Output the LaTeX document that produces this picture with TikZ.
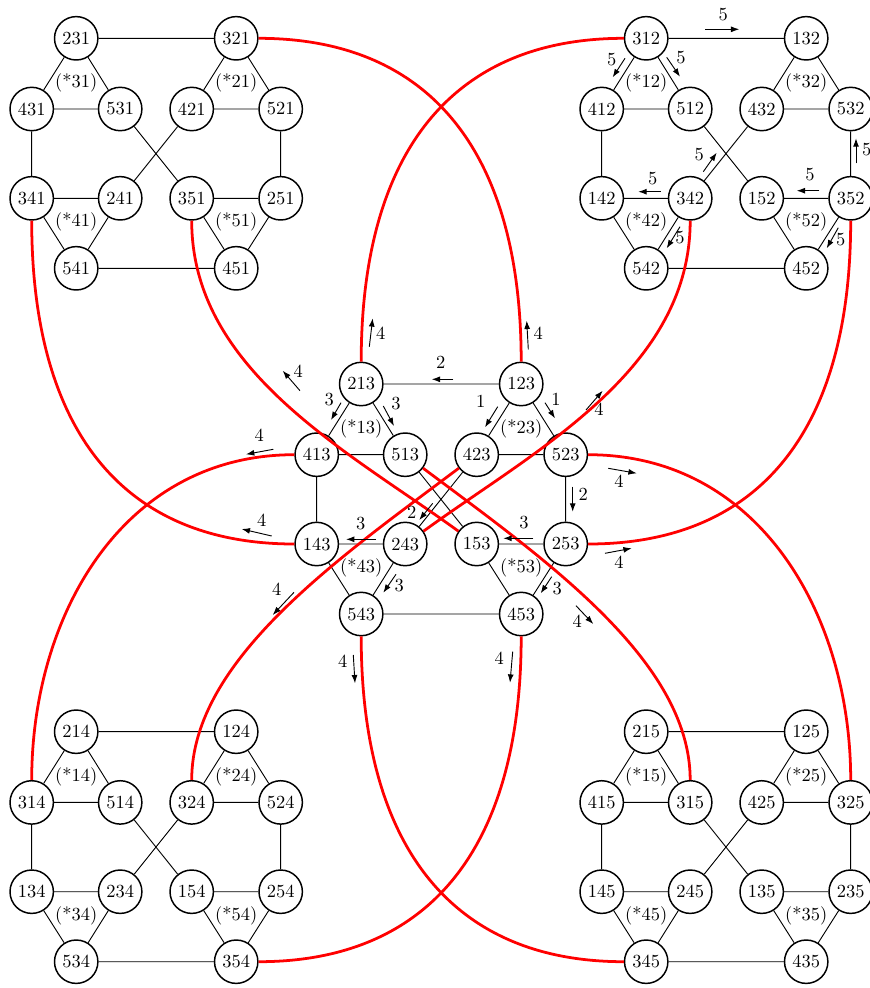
\documentclass[tikz,border=0pt]{standalone}
\usetikzlibrary{arrows.meta}
\begin{document}
\begin{tikzpicture}[x=0.5415pt,y=-0.5415pt,
  vtx/.style={circle,draw,line width=0.8pt,minimum size=23.5pt,inner sep=0pt,fill=white},
  edg/.style={line width=0.5pt},
  redc/.style={draw=red,line width=1.5pt},
  arr/.style={-{Latex[length=4.5pt,width=3.2pt]},line width=0.5pt},
  lab/.style={inner sep=0pt}]
\useasboundingbox (0,0) rectangle (870,988);

\foreach \ox/\oy/\qa/\qb/\qc/\qd/\qe/\qf/\qg/\qh/\qi/\qj/\qk/\ql/\ta/\tb/\tc/\td in {
  31.7/38.3/231/321/431/531/421/521/341/241/351/251/541/451/31/21/41/51,
  601.7/38.3/312/132/412/512/432/532/142/342/152/352/542/452/12/32/42/52,
  316.7/384/213/123/413/513/423/523/143/243/153/253/543/453/13/23/43/53,
  31.7/731.7/214/124/314/514/324/524/134/234/154/254/534/354/14/24/34/54,
  601.7/731.7/215/125/415/315/425/325/145/245/135/235/345/435/15/25/45/35}{
  \node[vtx] (n\qa) at (\ox+44.5,\oy) {\qa};
  \node[vtx] (n\qb) at (\ox+204.5,\oy) {\qb};
  \node[vtx] (n\qc) at (\ox,\oy+70.7) {\qc};
  \node[vtx] (n\qd) at (\ox+88.5,\oy+70.7) {\qd};
  \node[vtx] (n\qe) at (\ox+160,\oy+70.7) {\qe};
  \node[vtx] (n\qf) at (\ox+249,\oy+70.7) {\qf};
  \node[vtx] (n\qg) at (\ox,\oy+160) {\qg};
  \node[vtx] (n\qh) at (\ox+88.5,\oy+160) {\qh};
  \node[vtx] (n\qi) at (\ox+160,\oy+160) {\qi};
  \node[vtx] (n\qj) at (\ox+249,\oy+160) {\qj};
  \node[vtx] (n\qk) at (\ox+44.5,\oy+230) {\qk};
  \node[vtx] (n\ql) at (\ox+204.5,\oy+230) {\ql};
  \node[lab] (t\ta) at (\ox+44.5,\oy+45) {(*\ta)};
  \node[lab] (t\tb) at (\ox+204.5,\oy+45) {(*\tb)};
  \node[lab] (t\tc) at (\ox+44.5,\oy+184) {(*\tc)};
  \node[lab] (t\td) at (\ox+204.5,\oy+184) {(*\td)};
  \draw[edg] (n\qa)--(n\qb) (n\qa)--(n\qc) (n\qa)--(n\qd) (n\qc)--(n\qd)
    (n\qb)--(n\qe) (n\qb)--(n\qf) (n\qe)--(n\qf) (n\qc)--(n\qg) (n\qf)--(n\qj)
    (n\qd)--(n\qi) (n\qe)--(n\qh) (n\qg)--(n\qh) (n\qg)--(n\qk) (n\qh)--(n\qk)
    (n\qi)--(n\qj) (n\qi)--(n\ql) (n\qj)--(n\ql) (n\qk)--(n\ql);
}

% red connectors
\draw[redc] (n321.east) .. controls +(171,0) and +(0,-210) .. (n123.north);
\draw[redc] (n312.west) .. controls +(-171,0) and +(0,-210) .. (n213.north);
\draw[redc] (n341.south) .. controls +(0,210) and +(-171,0) .. (n143.west);
\draw[redc] (n352.south) .. controls +(0,210) and +(171,0) .. (n253.east);
\draw[redc] (n413.west) .. controls +(-171,0) and +(0,-165) .. (n314.north);
\draw[redc] (n523.east) .. controls +(171,0) and +(0,-165) .. (n325.north);
\draw[redc] (n543.south) .. controls +(0,211) and +(-171,0) .. (n345.west);
\draw[redc] (n453.south) .. controls +(0,211) and +(171,0) .. (n354.east);
\draw[redc] (n351.south) .. controls +(0,150) and +(-110,-80) .. (n153.145);
\draw[redc] (n342.south) .. controls +(0,150) and +(110,-80) .. (n243.35);
\draw[redc] (n513.-37) .. controls +(120,90) and +(0,-120) .. (n315.north);
\draw[redc] (n423.-143) .. controls +(-120,90) and +(0,-120) .. (n324.north);

% labelled arrows
\foreach \xa/\ya/\xb/\yb/\lx/\ly/\tx in {
  705/29.3/739.3/29.3/723.3/15/5,
  625/58.3/612.7/77.3/611.7/60/5,
  666.7/57.3/680/76.7/681/57.3/5,
  703.3/171.7/716.7/152.7/699.3/155/5,
  660.7/191.7/638.3/191.7/652.7/179/5,
  680/226.7/666.7/248.3/680/237.3/5,
  819.3/190.7/796.7/190.7/810/175/5,
  856/163.3/856/138.3/866.7/150/5,
  838.3/227.7/826.7/248.3/840.7/240/5,
  453.3/379.3/431.7/379.3/440.7/362.7/2,
  341/402.7/331/420/329.3/399.3/3,
  383.3/406/394/426/396/403.3/3,
  497.7/406.7/485/427.3/480.7/401.7/1,
  545/402.7/555/418.3/556/399.3/1,
  572.7/486.7/572.7/511.7/583.3/494/2,
  533.3/538.3/503.3/538.3/524/522.7/3,
  376/539.3/346/539.3/360.7/524/3,
  432.7/503.3/419.3/520/411.7/512.7/2,
  396/574.3/383.3/592.7/399.3/586/3,
  551.7/576.7/540.7/593.3/557.3/588.3/3,
  369.3/346.7/372.7/318.3/380.7/333.3/4,
  528.3/349.3/526.7/320.7/538.3/333.3/4,
  300/390.7/282.7/370.7/298.3/371.7/4,
  586/410/602.7/390.7/599/409.3/4,
  273.3/449.3/246/454.3/259.3/435/4,
  271.7/536/241.7/529/261.7/520.7/4,
  294/592.3/272.7/615/276.7/589.3/4,
  608.3/468.3/636.7/473.3/619/481.7/4,
  605/553.3/631.7/548.3/619/562.7/4,
  576/605.7/593.3/624/577.3/621.7/4,
  353.3/655/355/683.3/342.7/661.7/4,
  512.7/651.7/510/682.7/499.3/658.3/4}{
  \draw[arr] (\xa,\ya) -- (\xb,\yb);
  \node[lab] at (\lx,\ly) {\tx};
}
\end{tikzpicture}
\end{document}
